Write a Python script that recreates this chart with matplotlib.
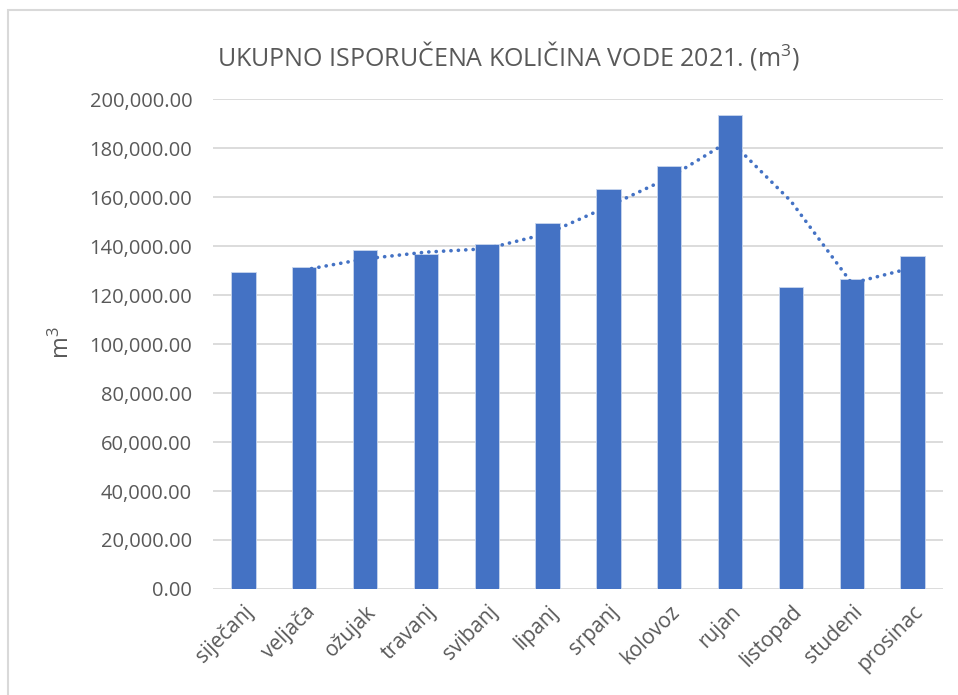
import matplotlib
matplotlib.use("Agg")
import matplotlib.pyplot as plt
import matplotlib.patches as mpatches
import pandas as pd

months = ["siječanj", "veljača", "ožujak", "travanj", "svibanj", "lipanj",
          "srpanj", "kolovoz", "rujan", "listopad", "studeni", "prosinac"]
values = [129200, 131300, 138200, 136800, 141000, 149200,
          163200, 172600, 193500, 123100, 126500, 135800]
yticks = [0, 20000, 40000, 60000, 80000, 100000, 120000, 140000, 160000, 180000, 200000]

title = "UKUPNO ISPORUČENA KOLIČINA VODE 2021. (m$^3$)"
ylabel = "m$^3$"

plt.rcParams['font.family'] = ['Open Sans', 'DejaVu Sans']
plt.rcParams['mathtext.fontset'] = 'custom'
plt.rcParams['mathtext.rm'] = 'Open Sans'
plt.rcParams['mathtext.it'] = 'Open Sans'
text_col = "#595959"
bar_col = "#4472C4"

fig = plt.figure(figsize=(9.58, 6.95), dpi=100)
ax = fig.add_axes([213/958, 1-589/695, (943-213)/958, (589-99)/695])

x = list(range(len(months)))
ax.bar(x, values, width=0.4, color=bar_col, edgecolor="#c9d6ee", linewidth=0.6, zorder=2)

ma = pd.Series(values).rolling(2).mean()
ax.plot(x, ma, color=bar_col, linewidth=2.6, linestyle=(0, (0.05, 2.0)),
        dash_capstyle='round', solid_capstyle='round', zorder=3)

ax.set_xlim(-0.5, len(months) - 0.5)
ax.set_ylim(0, 200000)
ax.set_yticks(yticks)
ax.set_yticklabels([f"{v:,.2f}" for v in yticks], fontsize=14.5, color=text_col)
ax.set_xticks(x)
ax.set_xticklabels(months, rotation=45, ha="right", rotation_mode="anchor",
                   fontsize=15, color=text_col)
ax.tick_params(axis="y", length=0, pad=15)
ax.tick_params(axis="x", length=0, pad=9)
ax.grid(axis="y", color="#d9d9d9", linewidth=1.3, zorder=0)
ax.set_axisbelow(True)
for s in ax.spines.values():
    s.set_visible(False)

fig.text(62/958, 1-343/695, ylabel, rotation=90, ha="center", va="center",
         fontsize=17, color=text_col)
fig.text(508/958, 1-55/695, title, ha="center", va="center",
         fontsize=18, color=text_col)

border = mpatches.Rectangle((8/958, -0.1), 1.2, 0.1 + (695-10)/695,
                            transform=fig.transFigure, fill=False,
                            edgecolor="#d9d9d9", linewidth=1.5)
fig.patches.append(border)

fig.savefig("out.png", dpi=100)
